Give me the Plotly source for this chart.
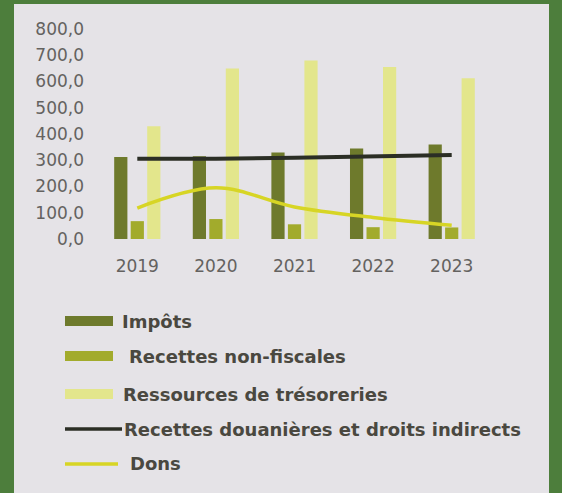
import plotly.graph_objects as go

# Budget revenue series, 2019-2023
years = ["2019", "2020", "2021", "2022", "2023"]
impots = [312, 315, 330, 345, 360]
recettes_non_fiscales = [68, 76, 56, 45, 44]
ressources_tresorerie = [430, 650, 680, 655, 612]
recettes_douanieres = [306, 306, 310, 314, 320]
dons = [118, 195, 122, 82, 52]

names = [
    "Impôts",
    "Recettes non-fiscales",
    "Ressources de trésoreries",
    "Recettes douanières et droits indirects",
    "Dons",
]
colors = ["#6e7a2c", "#a2ab2c", "#e3e68c", "#2b2e25", "#d7d525"]

W, H = 562, 493
L, R, T, B = 98, 71, 29, 254
PW, PH = W - L - R, H - T - B


def px(x):
    return (x - L) / PW


def py(y):
    return (H - B - y) / PH


fig = go.Figure()
for vals, name, col in zip([impots, recettes_non_fiscales, ressources_tresorerie], names[:3], colors[:3]):
    fig.add_trace(go.Bar(x=years, y=vals, name=name, marker=dict(color=col, line=dict(width=0)),
                         showlegend=False))
fig.add_trace(go.Scatter(x=years, y=recettes_douanieres, name=names[3], mode="lines",
                         line=dict(color=colors[3], width=4), showlegend=False))
fig.add_trace(go.Scatter(x=years, y=dons, name=names[4], mode="lines",
                         line=dict(color=colors[4], width=3.5, shape="spline", smoothing=1.0),
                         showlegend=False))

shapes = [
    # light panel on the green frame
    dict(type="rect", xref="paper", yref="paper", x0=px(14), x1=px(549), y0=py(520), y1=py(4),
         fillcolor="#e5e3e7", line=dict(width=0), layer="below"),
]
annotations = []

# legend drawn as wide swatches with labels
legend_rows = [
    (321, 113, 120, "bar"),
    (356, 113, 127, "bar"),
    (394, 113, 121, "bar"),
    (429, 122, 122, "line"),
    (464, 118, 128, "line"),
]
for (yc, xend, xtext, kind), name, col in zip(legend_rows, names, colors):
    if kind == "bar":
        shapes.append(dict(type="rect", xref="paper", yref="paper", x0=px(65), x1=px(xend),
                           y0=py(yc + 5), y1=py(yc - 5), fillcolor=col, line=dict(width=0)))
    else:
        shapes.append(dict(type="line", xref="paper", yref="paper", x0=px(65), x1=px(xend),
                           y0=py(yc), y1=py(yc), line=dict(color=col, width=3.5)))
    annotations.append(dict(text=name, xref="paper", yref="paper", x=px(xtext), y=py(yc),
                            xanchor="left", yanchor="middle", showarrow=False,
                            font=dict(family="DejaVu Sans", size=18, color="#4a4840", weight="bold")))

tick_font = dict(family="DejaVu Sans", size=17, color="#646260")

fig.update_layout(
    width=W, height=H,
    margin=dict(l=L, r=R, t=T, b=B, pad=0),
    paper_bgcolor="#4d7e3c",
    plot_bgcolor="rgba(0,0,0,0)",
    separators=", ",
    barmode="group",
    bargap=0.37,
    bargroupgap=0.2,
    shapes=shapes,
    annotations=annotations,
    showlegend=False,
)
fig.update_xaxes(showgrid=False, zeroline=False, showline=False, ticks="",
                 tickfont=tick_font, ticklabelstandoff=15)
fig.update_yaxes(range=[0, 800], dtick=100, tickformat=".1f", showgrid=False, zeroline=False,
                 showline=False, ticks="", tickfont=tick_font, ticklabelstandoff=13)

fig.write_html("out.html")
